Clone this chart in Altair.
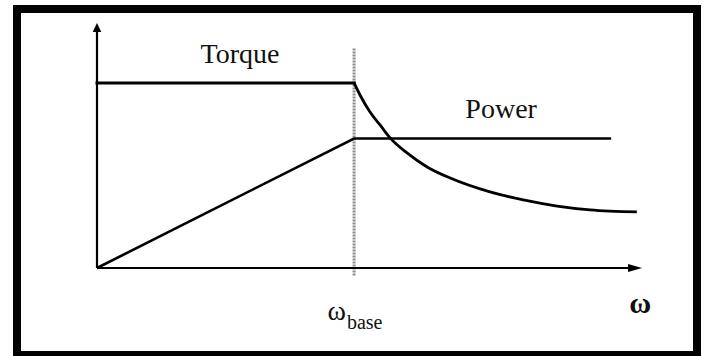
import altair as alt
import pandas as pd

# Torque: constant up to base speed, then falling off
torque_w = [0.0, 1.0, 1.023, 1.062, 1.101, 1.14, 1.206, 1.284, 1.374, 1.529, 1.658, 1.79, 1.918, 2.10]
torque_t = [1.0, 1.0, 0.935, 0.843, 0.773, 0.703, 0.622, 0.546, 0.486, 0.411, 0.368, 0.335, 0.314, 0.303]

# Power: rising linearly up to base speed, then constant
power_w = [0.0, 1.0, 2.0]
power_p = [0.0, 0.70, 0.70]

# Base-speed marker and axis extents
w_base = 1.0
base_y = [-0.04, 1.19]
x_axis_end = 2.093
y_axis_end = 1.30

# Text labels
label_text = ["Torque", "Power", "\u03c9", "base", "\u03c9"]
label_x = [0.556, 1.572, 0.897, 0.972, 2.113]
label_y = [1.108, 0.811, -0.281, -0.330, -0.243]
label_size = [28, 28, 28, 20, 30]
label_weight = ["normal", "normal", "normal", "normal", "bold"]
label_align = ["center", "center", "left", "left", "center"]

SERIF = "Liberation Serif"

xs = alt.Scale(domain=[0, 2.12], range=[80, 625], nice=False, zero=False)
ys = alt.Scale(domain=[0, 1.324], range=[259, 14], nice=False, zero=False)

# Flat part and field-weakening part of the torque curve
torque_df = pd.DataFrame({"w": torque_w, "v": torque_t, "i": range(len(torque_w))})
flat_df = torque_df[[w <= w_base for w in torque_w]]
fall_df = torque_df[[w >= w_base for w in torque_w]]
power_df = pd.DataFrame({"w": power_w, "v": power_p, "i": range(len(power_w))})

enc = dict(
    x=alt.X("w:Q", scale=xs, axis=None),
    y=alt.Y("v:Q", scale=ys, axis=None),
    order="i:Q",
)
torque_flat = alt.Chart(flat_df).mark_line(color="black", strokeWidth=3, strokeCap="square").encode(**enc)
torque_fall = alt.Chart(fall_df).mark_line(
    color="black", strokeWidth=2.8, interpolate="monotone"
).encode(**enc)
power = alt.Chart(power_df).mark_line(color="black", strokeWidth=2.6, strokeJoin="miter").encode(**enc)

base_df = pd.DataFrame({"w": [w_base], "y0": [base_y[0]], "y1": [base_y[1]]})
base_line = alt.Chart(base_df).mark_rule(color="#8c8c8c", strokeWidth=3, strokeDash=[2, 1]).encode(
    x=alt.X("w:Q", scale=xs, axis=None),
    y=alt.Y("y0:Q", scale=ys, axis=None),
    y2="y1:Q",
)

# Coordinate axes drawn as rules with arrowheads
axes_df = pd.DataFrame({
    "x0": [0.0, 0.0], "x1": [x_axis_end, 0.0],
    "y0": [0.0, 0.0], "y1": [0.0, y_axis_end],
})
axes = alt.Chart(axes_df).mark_rule(color="black", strokeWidth=2.2).encode(
    x=alt.X("x0:Q", scale=xs, axis=None),
    x2="x1:Q",
    y=alt.Y("y0:Q", scale=ys, axis=None),
    y2="y1:Q",
)
arrow_right = alt.Chart(pd.DataFrame({"x": [x_axis_end], "y": [0.0]})).mark_point(
    shape="M-1,-0.57L1,0L-1,0.57Z", size=196, filled=True, color="black", opacity=1, strokeWidth=0
).encode(x=alt.X("x:Q", scale=xs, axis=None), y=alt.Y("y:Q", scale=ys, axis=None))
arrow_up = alt.Chart(pd.DataFrame({"x": [0.0], "y": [y_axis_end]})).mark_point(
    shape="M0,-1L0.95,1L-0.95,1Z", size=81, filled=True, color="black", opacity=1, strokeWidth=0
).encode(x=alt.X("x:Q", scale=xs, axis=None), y=alt.Y("y:Q", scale=ys, axis=None))

labels = []
for t, x, y, s, wgt, al in zip(label_text, label_x, label_y, label_size, label_weight, label_align):
    labels.append(
        alt.Chart(pd.DataFrame({"x": [x], "y": [y], "t": [t]})).mark_text(
            font=SERIF, fontWeight=wgt, fontSize=s,
            align=al, baseline="alphabetic", color="#111111",
        ).encode(
            x=alt.X("x:Q", scale=xs, axis=None),
            y=alt.Y("y:Q", scale=ys, axis=None),
            text="t:N",
        )
    )

chart = alt.layer(
    base_line, axes, arrow_right, arrow_up, power, torque_flat, torque_fall, *labels
).properties(
    width=680,
    height=346,
    autosize=alt.AutoSizeParams(type="none"),
    padding={"left": 17, "top": 9, "right": 10, "bottom": 1},
    background="white",
).configure_view(stroke="black", strokeWidth=8)

chart.save("out.html", embed_options={"renderer": "svg", "actions": False})
